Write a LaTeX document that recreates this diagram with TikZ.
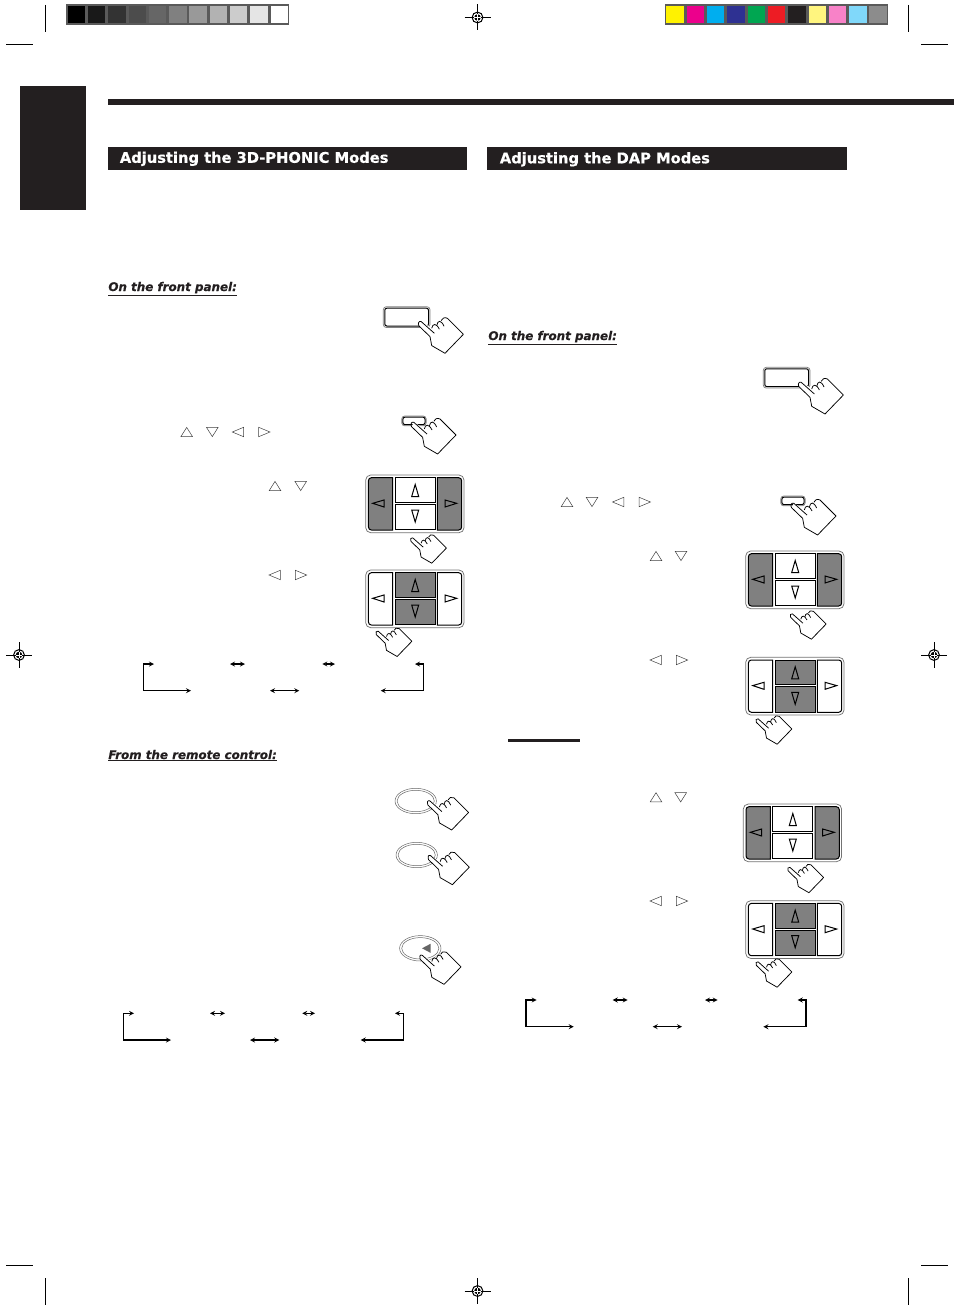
\documentclass[tikz,border=0pt]{standalone}
\usepackage{fontspec}
\newfontfamily\headfont[FakeBold=0.5]{DejaVu Sans Bold}
\newfontfamily\subfont[FakeBold=0.3]{DejaVu Sans Bold Oblique}
\definecolor{inkblack}{HTML}{231F20}
\definecolor{barback}{HTML}{5A5A5A}
\definecolor{keygray}{HTML}{808080}
\tikzset{every picture/.style={line width=0.75pt}}
\tikzset{
	titlebar/.style={fill=inkblack},
	headtext/.style={anchor=base west,inner sep=0pt,text=white,font=\headfont\fontsize{14.68}{16}\selectfont},
	subtext/.style={anchor=base west,inner sep=0pt,text=inkblack,font=\subfont\fontsize{11.9}{13}\selectfont},
	cropline/.style={line width=0.8pt},
	flowline/.style={<->,line width=1.2pt},
	keyline/.style={line width=1pt},
	smalltri/.style={draw=black!75,line width=0.5pt},
	%Ban tay
	pics/handpress/.style={code={
		\fill[white] (-1.7,1.7) -- (0.5,-2.7) -- (10,3) -- (15,-1) -- (20,-4) -- (26.7,-6.5) -- (42.7,10) -- (24.3,29) -- (11,21.3) -- (9.3,12.3) -- cycle;
		\draw[line join=round] (13.7,9) -- (0.5,-2.7) .. controls (-1.5,-4) and (-3.5,-0.5) .. (-1.7,1.7) -- (9.3,12.3) -- (11,21.3) -- (24.3,29) -- (42.7,10) -- (26.7,-6) .. controls (24,-7.5) and (21,-6) .. (20.5,-3.7);
		\draw (11,4) .. controls (12,-1) and (15.5,-1.5) .. (18.7,5);
		\draw (16,1.3) .. controls (17,-4.5) and (20.5,-4.5) .. (23.3,2);
	}},
	%Tam giac nho
	pics/triup/.style={code={\draw[smalltri] (-5.8,4.6) -- (0,-4.6) -- (5.8,4.6) -- cycle;}},
	pics/tridown/.style={code={\draw[smalltri] (-5.8,-4.6) -- (0,4.6) -- (5.8,-4.6) -- cycle;}},
	pics/trileft/.style={code={\draw[smalltri] (5.3,-4.7) -- (-6,0) -- (5.3,4.7) -- cycle;}},
	pics/triright/.style={code={\draw[smalltri] (-5.3,-4.7) -- (6,0) -- (-5.3,4.7) -- cycle;}},
	%Bang phim 4 nut
	pics/keypad/.style 2 args={code={
		\draw[draw=black!55,rounded corners=5] (0,0) rectangle (98.3,57.7);
		\draw[keyline,fill=#1] (27,2.7) [rounded corners=3] -- (2.7,2.7) -- (2.7,55) [sharp corners] -- (27,55) -- cycle;
		\draw[keyline,fill=#1] (71.7,2.7) [rounded corners=3] -- (96,2.7) -- (96,55) [sharp corners] -- (71.7,55) -- cycle;
		\draw[keyline,fill=#2] (29.3,2.7) rectangle (69.3,27.3);
		\draw[keyline,fill=#2] (29.3,29.3) rectangle (69.3,54.8);
		\draw[keyline] (7,28.3) -- (18.3,25) -- (18.3,32) -- cycle;
		\draw[keyline] (91,28.3) -- (79.3,25) -- (79.3,32) -- cycle;
		\draw[keyline] (49.5,9.5) -- (46,21.5) -- (53,21.5) -- cycle;
		\draw[keyline] (49.5,47) -- (46,35) -- (53,35) -- cycle;
	}},
	%Nut chu nhat
	pics/bigbutton/.style={code={
		\draw[draw=black!50,rounded corners=3] (0,0) rectangle (46.7,20.8);
		\draw[line width=1pt,rounded corners=2] (1.5,1.5) rectangle (45.2,19.3);
	}},
	pics/smallbutton/.style={code={
		\draw[draw=black!50,rounded corners=3] (0,0) rectangle (24.5,9.8);
		\draw[line width=1pt,rounded corners=2] (1.2,1.2) rectangle (23.3,8.6);
	}},
	%Nut oval
	pics/ovalbutton/.style={code={
		\draw[draw=black!60,line width=0.5pt] (0,0) ellipse (20.7 and 12.7);
		\draw[draw=black!60,line width=0.5pt] (0,0) ellipse (18.6 and 10.7);
	}},
	%So do che do
	pics/modeflow/.style={code={
		\coordinate (ta) at (10.7,0);
		\coordinate (tb) at (0,0);
		\coordinate (tc) at (0,26.7);
		\coordinate (td) at (47.7,26.7);
		\coordinate (ma) at (86.7,0);
		\coordinate (mb) at (101.7,0);
		\coordinate (mc) at (179,0);
		\coordinate (md) at (191.7,0);
		\coordinate (me) at (126.7,26.7);
		\coordinate (mf) at (156,26.7);
		\coordinate (ra) at (271.7,0);
		\coordinate (rb) at (280,0);
		\coordinate (rc) at (280,26.7);
		\coordinate (rd) at (237.4,26.7);
		\draw[flowline] (ta) -- (tb) -- (tc) -- (td);
		\draw[flowline] (ma) -- (mb);
		\draw[flowline] (mc) -- (md);
		\draw[flowline] (me) -- (mf);
		\draw[flowline] (ra) -- (rb) -- (rc) -- (rd);
	}},
	%Dau dang ky
	pics/regmark/.style={code={
		\draw[cropline] (-13,0) -- (13,0);
		\draw[cropline] (0,-13) -- (0,13);
		\draw[line width=1pt] (0,0) circle (5.4);
		\fill (0,0) circle (3.3);
		\draw[white,line width=0.5pt] (-3.3,0) -- (3.3,0);
		\draw[white,line width=0.5pt] (0,-3.3) -- (0,3.3);
	}},
}

\begin{document}
\begin{tikzpicture}[>=stealth,x=1pt,y=-1pt]
	\useasboundingbox (0,0) rectangle (954,1311);
	%Thang xam
	\fill[barback] (66,4) rectangle (288.7,25);
	\foreach \xl/\xr/\tone in {68/85/100,88/105/90,108/126/80,129/146.3/70,149/166/60,169/187/50,189/207/40,210/227/30,230/247/20,250/268/10,271/288/0}
		\fill[black!\tone] (\xl,6) rectangle (\xr,23);
	%Thang mau
	\fill[barback] (665,4) rectangle (888,25);
	\foreach \xl/\xr/\swatch in {666/684/FFF200,687/704/EC008C,707/724/00AEEF,727/745/2E3192,748/765/00A651,768/785/ED1C24,788/806/231F20,809/826/FFF57F,829/846/F882C8,849/867/80D8FA,869/887/8C8C8C}{
		\definecolor{swatchcol}{HTML}{\swatch}
		\fill[swatchcol] (\xl,6) rectangle (\xr,23);
	}
	%Dau cat
	\foreach \xa/\xb/\ya/\yb in {45.5/45.5/5/32,6/33/44/44,908.5/908.5/5/32,921/948/44/44,6/33/1265/1265,921/948/1265/1265,45.5/45.5/1278/1305,908.5/908.5/1278/1305}
		\draw[cropline] (\xa,\ya) -- (\xb,\yb);
	%Dau dang ky
	\pic at (477.5,17.5) {regmark};
	\pic at (477.5,1291) {regmark};
	\pic at (19,655) {regmark};
	\pic at (934,655) {regmark};
	%Tab va duong ke
	\fill[inkblack] (20,86) rectangle (86,210);
	\fill[inkblack] (108,99) rectangle (954,105);
	\fill[inkblack] (508,739) rectangle (580,742);
	%Tieu de
	\fill[titlebar] (108,147) rectangle (467,170);
	\fill[titlebar] (487,147) rectangle (847,170);
	\node[headtext] (headphonic) at (119.5,162.8) {Adjusting the 3D-PHONIC Modes};
	\node[headtext] (headdap) at (499.5,163.3) {Adjusting the DAP Modes};
	\node[subtext] (frontleft) at (108,291) {\underline{On the front panel:}};
	\node[subtext] (remoteleft) at (108,759) {\underline{From the remote control:}};
	\node[subtext] (frontright) at (488,340) {\underline{On the front panel:}};
	%Cot trai: nut
	\pic at (383.3,306.7) {bigbutton};
	\pic at (420.7,324.3) {handpress};
	\pic at (401.7,416) {smallbutton};
	\pic at (413.3,425) {handpress};
	%Cot trai: tam giac
	\pic at (186.7,432) {triup};
	\pic at (212.3,432) {tridown};
	\pic at (238.3,432) {trileft};
	\pic at (264,432) {triright};
	\pic at (275,486) {triup};
	\pic at (300.7,486) {tridown};
	\pic at (275,575) {trileft};
	\pic at (300.7,575) {triright};
	%Cot trai: bang phim
	\pic at (365.7,475) {keypad={keygray}{white}};
	\pic[scale=0.8] at (412.3,540) {handpress};
	\pic at (365.7,570) {keypad={white}{keygray}};
	\pic[scale=0.8] at (377.7,633.3) {handpress};
	\pic (frontflow) at (143.3,664) {modeflow};
	%Dieu khien tu xa
	\pic at (415.7,801) {ovalbutton};
	\pic[scale=0.92] at (429.3,803.3) {handpress};
	\pic at (416.7,855) {ovalbutton};
	\pic[scale=0.92] at (430,858) {handpress};
	\pic at (420.3,948.3) {ovalbutton};
	\fill[black!60] (422,948.3) -- (430.5,943.8) -- (430.5,952.8) -- cycle;
	\pic[scale=0.92] at (421.7,957.7) {handpress};
	\pic (remoteflow) at (123.3,1013.3) {modeflow};
	%Cot phai: nut
	\pic at (763.3,367.3) {bigbutton};
	\pic at (800.7,385) {handpress};
	\pic at (780.7,496) {smallbutton};
	\pic at (793.3,506) {handpress};
	%Cot phai: tam giac
	\pic at (567,502) {triup};
	\pic at (592,502) {tridown};
	\pic at (618.5,502) {trileft};
	\pic at (644.5,502) {triright};
	\pic at (656,556) {triup};
	\pic at (681,556) {tridown};
	\pic at (656,660) {trileft};
	\pic at (681.7,660) {triright};
	\pic at (656,797.3) {triup};
	\pic at (680.7,797.3) {tridown};
	\pic at (656,901) {trileft};
	\pic at (681.7,901) {triright};
	%Cot phai: bang phim
	\pic at (745.7,551) {keypad={keygray}{white}};
	\pic[scale=0.8] at (792,616) {handpress};
	\pic at (745.7,657.3) {keypad={white}{keygray}};
	\pic[scale=0.8] at (757.7,721) {handpress};
	\pic at (743.3,804) {keypad={keygray}{white}};
	\pic[scale=0.8] at (789.5,869.5) {handpress};
	\pic at (745.7,900.7) {keypad={white}{keygray}};
	\pic[scale=0.8] at (757.7,964) {handpress};
	\pic (dapflow) at (526,1000) {modeflow};
\end{tikzpicture}
\end{document}
